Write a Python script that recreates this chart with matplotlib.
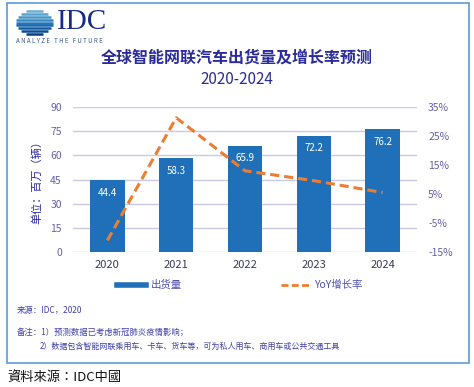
import numpy as np
import matplotlib.pyplot as plt
from matplotlib.patches import Rectangle
from matplotlib.lines import Line2D

plt.rcParams['font.family'] = ['Noto Sans CJK SC', 'DejaVu Sans']

years = ["2020", "2021", "2022", "2023", "2024"]
shipments = [44.4, 58.3, 65.9, 72.2, 76.2]
yoy = [-11.0, 31.3, 13.0, 9.6, 5.5]
left_ticks = [0, 15, 30, 45, 60, 75, 90]
right_ticks = [-15, -5, 5, 15, 25, 35]

bar_color = "#1f70b8"
line_color = "#ed7d31"
text_blue = "#2b2b9a"
tick_color = "#6560a8"

W, H = 474, 387
fig = plt.figure(figsize=(W / 100, H / 100), dpi=100)

# outer frame
fig.patches.append(Rectangle((7 / W, 1 - 363 / H), 462 / W, 360 / H, transform=fig.transFigure,
                             fill=False, edgecolor="#5b9bd5", linewidth=1.2))

# logo
lg = fig.add_axes([15 / W, 1 - 36 / H, 39 / W, 27 / H])
n = 9
for i in range(n):
    yy = 1 - (i + 0.5) / n * 2
    half = np.sqrt(max(1 - yy ** 2, 0.12))
    shade = plt.cm.Blues(0.5 + 0.45 * i / (n - 1))
    lg.hlines(yy, -half, half, color=shade, linewidth=1.8)
lg.set_xlim(-1.05, 1.05)
lg.set_ylim(-1.05, 1.05)
lg.axis("off")
fig.text(57 / W, 1 - 22 / H, "IDC", family="Liberation Serif", fontsize=21,
         color="#1a2a8a", va="center", ha="left")
fig.text(16 / W, 1 - 41 / H, "A N A L Y Z E   T H E   F U T U R E", fontsize=4.4,
         color="#3a5a8a", va="center", ha="left")

# titles
fig.text(0.5, 1 - 58 / H, "全球智能网联汽车出货量及增长率预测", fontsize=11.5,
         fontweight="bold", color=text_blue, ha="center", va="center")
fig.text(0.5, 1 - 80 / H, "2020-2024", fontsize=11, color=text_blue,
         ha="center", va="center")

ax = fig.add_axes([73 / W, 1 - 252 / H, 344 / W, 145 / H])
x = np.arange(len(years))
bars = ax.bar(x, shipments, width=0.5, color=bar_color, zorder=2)
for xi, v in zip(x, shipments):
    ax.annotate(f"{v}", (xi, v), xytext=(0, -9), textcoords="offset points",
                ha="center", va="center", color="white", fontsize=7)
ax.set_xlim(-0.5, 4.5)
ax.set_ylim(0, 90)
ax.set_yticks(left_ticks)
ax.set_xticks(x)
ax.set_xticklabels(years)
ax.grid(axis="y", color="#c9c9e6", linewidth=1, zorder=0)
ax.set_axisbelow(True)
for s in ax.spines.values():
    s.set_visible(False)
ax.tick_params(axis="y", length=0, pad=8, labelsize=7.5, labelcolor=tick_color)
ax.tick_params(axis="x", length=0, pad=6, labelsize=8, labelcolor="#3a3a5a")
ax.set_ylabel("单位：百万（辆）", fontsize=8, color=text_blue, labelpad=6)

ax2 = ax.twinx()
ax2.plot(x, yoy, color=line_color, linewidth=2.2, linestyle=(0, (3, 1.6)), zorder=3)
ax2.set_ylim(-15, 35)
ax2.set_yticks(right_ticks)
ax2.set_yticklabels([f"{t}%" for t in right_ticks])
for s in ax2.spines.values():
    s.set_visible(False)
ax2.tick_params(axis="y", length=0, pad=8, labelsize=7.5, labelcolor=tick_color)

handles = [Line2D([], [], color=bar_color, linewidth=4),
           Line2D([], [], color=line_color, linewidth=2, linestyle=(0, (2.5, 1.2)))]
fig.legend(handles, ["出货量", "YoY增长率"], loc="center", ncol=2,
           bbox_to_anchor=(240 / W, 1 - 285 / H), frameon=False, fontsize=7.5,
           labelcolor="#5050a8", handlelength=2.7, columnspacing=9.5, handletextpad=0.5)

fig.text(17 / W, 1 - 311 / H, "来源：IDC，2020", fontsize=6, color="#4040a8", va="center")
fig.text(17 / W, 1 - 332 / H, "备注：1）预测数据已考虑新冠肺炎疫情影响；", fontsize=6,
         color="#4040a8", va="center")
fig.text(40 / W, 1 - 346 / H,
         "2）数据包含智能网联乘用车、卡车、货车等，可为私人用车、商用车或公共交通工具",
         fontsize=5.8, color="#4040a8", va="center")
fig.text(7 / W, 1 - 377 / H, "資料來源：IDC中國", family=["Noto Sans CJK TC", "DejaVu Sans"],
         fontsize=9.5, color="#111111", va="center")

fig.savefig("out.png", dpi=100)
